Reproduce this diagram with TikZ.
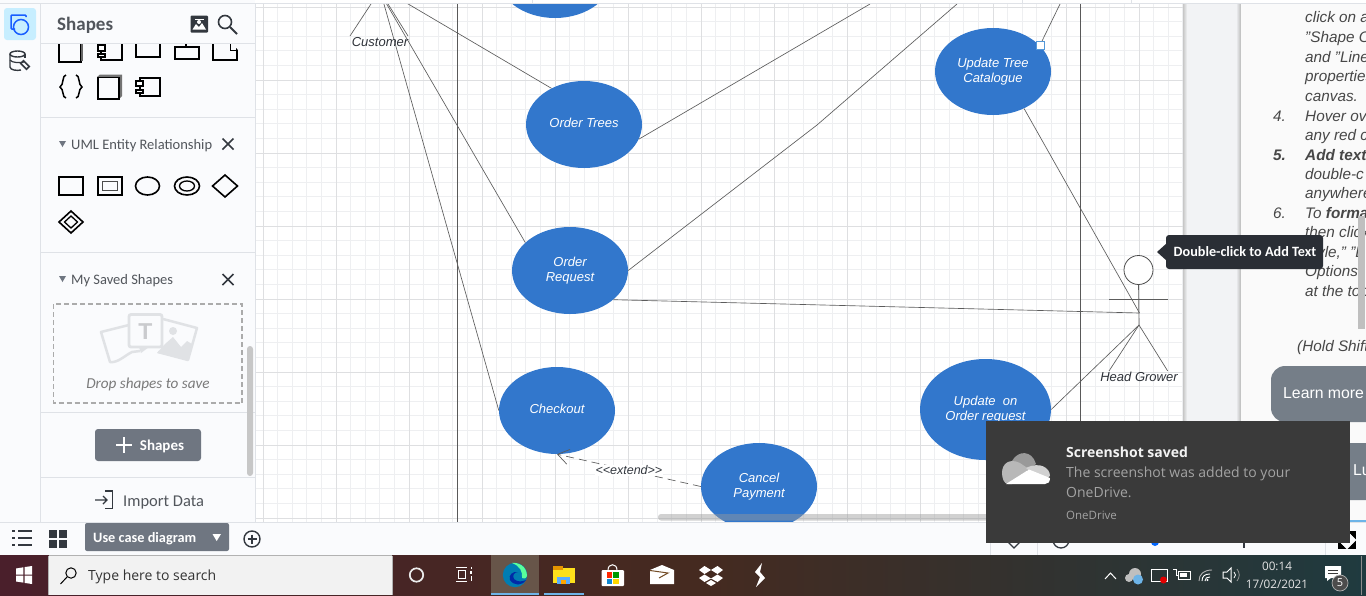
\documentclass[tikz,border=0pt]{standalone}
\usepackage{fontspec}
\setmainfont{Liberation Sans}
\newfontfamily\uifont{Carlito}
\newfontfamily\winfont{Open Sans}
\usetikzlibrary{shapes.geometric,arrows.meta}
\newcommand{\fsz}[1]{\fontsize{#1}{#1}\selectfont}
\newcommand{\uctext}[1]{\raisebox{3pt}{\renewcommand{\arraystretch}{1}\begin{tabular}{@{}c@{}}#1\end{tabular}}}
\definecolor{ucblue}{HTML}{3277CC}
\definecolor{gridminor}{HTML}{EEEFF1}
\definecolor{gridmajor}{HTML}{DEDFE1}
\definecolor{wire}{HTML}{5C5C5C}
\definecolor{panelbg}{HTML}{FAFBFD}
\definecolor{sep}{HTML}{DFE2E7}
\definecolor{ink}{HTML}{33383F}
\definecolor{btn}{HTML}{6F7681}
\definecolor{toast}{HTML}{3A3A3A}
\definecolor{tipdark}{HTML}{2A2E35}
\definecolor{winbtn}{HTML}{757E88}
\definecolor{taskA}{HTML}{4A1F2B}
\definecolor{taskB}{HTML}{452A20}
\definecolor{taskC}{HTML}{1F3A3F}
\definecolor{gutter}{HTML}{F2F3F5}
\definecolor{activetile}{HTML}{675549}
\definecolor{taskblue}{HTML}{6DB4E8}
\definecolor{savedgrey}{HTML}{E0E2E5}
\tikzset{
 usecase/.style={ellipse,fill=ucblue,text=white,inner sep=0pt,minimum width=116pt,minimum height=87pt,font=\fontsize{13}{15}\selectfont\itshape},
 wireline/.style={draw=wire,line width=.65pt},
 acttext/.style={text=ink!90!black,font=\fsz{13}\itshape,inner sep=0pt},
 iconline/.style={draw=black,line width=1.6pt},
 uilabel/.style={inner sep=0pt,anchor=base west,text=ink!85!white,font=\uifont\fsz{14.5}},
 paneltext/.style={inner sep=0pt,anchor=base west,text=black!72,font=\fsz{15.3}\itshape},
 toasttext/.style={inner sep=0,anchor=base west,text=black!36,font=\winfont\fsz{14}},
 tray/.style={draw=white,line width=1pt},
}
\begin{document}
\begin{tikzpicture}[x=1pt,y=-1pt]
\useasboundingbox (0,0) rectangle (1366,595);
\fill[white] (0,0) rectangle (1366,595);
% canvas grid
\begin{scope}
\clip (255,4) rectangle (1183,522);
\foreach \i in {0,...,64}{\draw[gridminor,line width=1pt] ({263+14.6*\i-14.6},4)--({263+14.6*\i-14.6},522);}
\foreach \i in {0,...,36}{\draw[gridminor,line width=1pt] (255,{7+14.6*\i})--(1183,{7+14.6*\i});}
\foreach \i in {0,...,12}{\draw[gridmajor,line width=1pt] ({263.5+73*\i},4)--({263.5+73*\i},522);}
\foreach \i in {0,...,7}{\draw[gridmajor,line width=1pt] (255,{7+73.05*\i})--(1183,{7+73.05*\i});}
% boundary lines
\draw[black!65,line width=1pt] (457.5,4)--(457.5,522);
\draw[black!65,line width=1pt] (1080.5,4)--(1080.5,522);
% free ends
\coordinate (custA) at (381,-12);
\coordinate (custB) at (381.4,-5);
\coordinate (custL) at (379.7,-9.3);
\coordinate (custFootL) at (350,36);
\coordinate (custFootR) at (408,36);
\coordinate (bendR) at (817,125);
\coordinate (offOR) at (957,4);
\coordinate (offOT) at (870,4);
\coordinate (offUT) at (1060,4);
\coordinate (hgHip) at (1139,325);
\coordinate (hgWaist) at (1139.5,313);
\coordinate (hgFootL) at (1109,371);
\coordinate (hgFootR) at (1167.7,371);
\coordinate (hgArmL) at (1109,299);
\coordinate (hgArmR) at (1168,299);
% use cases
\node[usecase] (topuc) at (555,-25.5) {};
\node[usecase] (ordertrees) at (584,124.5) {\uctext{Order Trees}};
\node[usecase] (updatetree) at (993,71.5) {\uctext{Update Tree\\Catalogue}};
\node[usecase] (orderreq) at (570,270.5) {\uctext{Order\\Request}};
\node[usecase] (checkout) at (557,410.5) {\uctext{Checkout}};
\node[usecase,minimum width=131pt,minimum height=101pt] (updateon) at (985.5,409.5) {\uctext{Update\ \ on\\Order request}};
\node[usecase] (cancel) at (759,486.5) {\uctext{Cancel\\Payment}};
% actor
\node[circle,draw=black!70,line width=.8pt,fill=white,minimum size=29pt,inner sep=0pt] (hghead) at (1138.5,270) {};
\draw[wireline] (hghead.south)--(hgHip);
\draw[wireline] (hgArmL)--(hgArmR);
\draw[wireline] (hgHip)--(hgFootL);
\draw[wireline] (hgHip)--(hgFootR);
\draw[wireline] (custL)--(custFootL);
\draw[wireline] (custL)--(custFootR);
% connectors
\draw[wireline] (custA)--(ordertrees.132);
\draw[wireline] (custB)--(orderreq.148);
\draw[wireline] (custB)--(checkout.west);
\draw[wireline] (ordertrees.-15)--(offOT);
\draw[wireline] (orderreq.east)--(bendR)--(offOR);
\draw[wireline] (updatetree.29)--(offUT);
\draw[wireline] (updatetree.-50)--(hgWaist);
\draw[wireline] (orderreq.-34)--(hgWaist);
\draw[wireline] (updateon.east)--(hgHip);
\draw[wireline,dash pattern=on 8pt off 5pt,-{Straight Barb[length=11pt,width=15pt,line width=.7pt]}] (cancel.west)-- node[fill=white,inner sep=1pt,text=ink,font=\fsz{12.5}\itshape] (extendlabel) {{<}{<}extend{>}{>}} (checkout.south);
% handle
\node[draw=cyan!60!blue!70,fill=white,line width=1.2pt,minimum size=8pt,inner sep=0pt] (handle) at (1040.5,45.5) {};
\node[acttext] (customerlabel) at (380,42) {Customer};
\node[acttext] (hglabel) at (1139,377) {Head Grower};
% h scrollbar
\fill[black!40,opacity=.45,rounded corners=3pt] (658,514) rectangle (1000,520.5);
\end{scope}
% canvas bottom & top
\draw[sep] (255,3.5)--(1366,3.5);
\foreach \x in {83,532,1022,1131}{\draw[sep] (\x,0)--(\x,3.5);}
% gutter to right panel
\fill[gutter] (1183,4) rectangle (1241,522);
\shade[left color=black!22,right color=gutter] (1183,4) rectangle (1187,522);
\shade[left color=gutter,right color=black!28] (1236,4) rectangle (1241,522);
\fill[white!98!black] (1241,4) rectangle (1366,522);
% right panel text
\begin{scope}
\clip (1241,4) rectangle (1366,522);
\node[paneltext] (p1) at (1305,22.5) {click on a};
\node[paneltext] (p2) at (1305,42.5) {"Shape O};
\node[paneltext] (p3) at (1305,62) {and "Line};
\node[paneltext] (p4) at (1305,81.5) {properties};
\node[paneltext] (p5) at (1305,101) {canvas.};
\node[paneltext] (n4) at (1273,121) {4.};
\node[paneltext] (p6) at (1305,121) {Hover ov};
\node[paneltext] (p7) at (1305,140) {any red c};
\node[paneltext] (n5) at (1273,160) {\bfseries 5.};
\node[paneltext] (p8) at (1305,160) {\bfseries Add text};
\node[paneltext] (p9) at (1305,179) {double-c};
\node[paneltext] (p10) at (1305,198.5) {anywhere};
\node[paneltext] (n6) at (1273,218) {6.};
\node[paneltext] (p11) at (1305,218) {To \textbf{format}};
\node[paneltext] (p12) at (1305,237) {then click};
\node[paneltext] (p13) at (1305,257) {style," "L};
\node[paneltext] (p14) at (1305,276) {Options"};
\node[paneltext] (p15) at (1305,296) {at the top};
\node[paneltext] (p16) at (1297,351) {(Hold Shift};
\fill[black!25] (1358,216) rectangle (1365,329);
\fill[winbtn,rounded corners=14pt] (1271,366) rectangle (1400,422);
\node[inner sep=0,anchor=west,text=white,font=\fsz{15.8}] (learn) at (1283,393.5) {Learn more};
\fill[winbtn,rounded corners=14pt] (1271,443) rectangle (1400,500);
\node[inner sep=0,anchor=west,text=white,font=\fsz{15.8}] (lu) at (1353,470) {Lu};
\fill[taskblue] (1350,519.5) rectangle (1366,522);
\end{scope}
% tooltip
\fill[tipdark,rounded corners=3pt] (1166,235) rectangle (1323,269);
\fill[tipdark] (1157,252)--(1167,243)--(1167,261)--cycle;
\node[inner sep=0,text=white,font=\uifont\fsz{14.2}\bfseries] (tiptext) at (1245,252) {Double-click to Add Text};
% left panels
\fill[panelbg] (0,4) rectangle (255,522);
\fill[panelbg] (0,0) rectangle (255,3.5);
\draw[sep] (40.5,4)--(40.5,522);
\draw[sep] (255.5,4)--(255.5,522);
\draw[sep] (0,3.5)--(255,3.5);
\fill[blue!30!cyan!22,rounded corners=3pt] (4,8) rectangle (36,40);
\draw[blue!70!cyan!90,line width=1.5pt,rounded corners=1pt] (26,17)--(26,15)--(11,15)--(11,29)--(15,29);
\draw[blue!70!cyan!90,line width=1.5pt] (21,27) circle (7.5pt);
% db icon
\draw[ink,line width=1.4pt] (10,54)--(10,67) .. controls (10,70) and (17,71) .. (21,70);
\draw[ink,line width=1.4pt] (17.5,54) ellipse (7.5pt and 3pt);
\draw[ink,line width=1.4pt] (25,54)--(25,58);
\draw[ink,line width=1.2pt] (10,60) .. controls (12,63) and (20,63) .. (24,62);
\draw[ink,line width=1.6pt,rotate around={-45:(25,65)}] (21,63) rectangle (29,67);
% header
\node[uilabel,font=\uifont\fsz{19}\bfseries] (shapestitle) at (57,30) {Shapes};
\fill[ink,rounded corners=1pt] (190.5,15.5) rectangle (208,32.5);
\fill[white] (195,18.5) rectangle (204,19.5);
\fill[white] (199,22) circle (2pt);
\fill[white] (192.5,29.5)--(196,24)--(199,27)--(202,23)--(206,29.5)--cycle;
\draw[ink,line width=1.6pt] (225,22) circle (6.5pt);
\draw[ink,line width=2pt] (230,27)--(237,34);
\draw[sep] (41,43.5)--(255,43.5);
% shapes row 1
\begin{scope}
\clip (41,44) rectangle (255,118);
\draw[iconline] (59,40) rectangle (81,62);
\fill[black!60] (81,40) rectangle (83,61);
\draw[iconline] (101,40) rectangle (122,60);
\fill[white] (98,45) rectangle (105,51);\draw[iconline,line width=1.2pt] (98,45) rectangle (105,51);
\fill[white] (98,54) rectangle (105,57);\draw[iconline,line width=1.2pt] (98,54) rectangle (105,57);
\draw[iconline] (136,40) rectangle (160,57);
\draw[iconline] (175,47) rectangle (199,59);
\draw[iconline] (186,43)--(186,47);
\draw[iconline] (213,40) rectangle (237,60);
\fill[panelbg] (230,40)--(238,50)--(238,40)--cycle;
\draw[iconline,line width=1pt] (230,44)--(230,50)--(237,50);
% braces
\draw[black,line width=1.5pt] (66,75) .. controls (62,75) and (64,85) .. (60,87) .. controls (64,89) and (62,98) .. (66,98);
\draw[black,line width=1.5pt] (76,75) .. controls (80,75) and (78,85) .. (82,87) .. controls (78,89) and (80,98) .. (76,98);
\fill[black!55] (97,77)--(100,74.5)--(122,74.5)--(122,96)--(119,99)--(119,77)--cycle;
\draw[iconline] (98,77.5) rectangle (119,99);
\draw[iconline] (140,78) rectangle (160,96);
\fill[white] (136,81) rectangle (143,86);\draw[iconline,line width=1.2pt] (136,81) rectangle (143,86);
\fill[white] (136,90) rectangle (143,93);\draw[iconline,line width=1.2pt] (136,90) rectangle (143,93);
\end{scope}
\draw[sep] (41,117.5)--(255,117.5);
\fill[btn] (59,141)--(66,141)--(62.5,147)--cycle;
\node[uilabel] (umllabel) at (71,149) {UML Entity Relationship};
\draw[ink,line width=1.5pt] (222.5,138.5)--(233.5,149.5) (233.5,138.5)--(222.5,149.5);
% ER icons
\draw[iconline] (59,177) rectangle (83,195);
\draw[iconline] (98,177) rectangle (122,195);
\draw[black!70,line width=1.3pt] (102.5,181.5) rectangle (117.5,190.5);
\draw[iconline] (147.5,186) ellipse (12pt and 9pt);
\draw[iconline] (187,186) ellipse (12.5pt and 9pt);
\draw[black,line width=1.3pt] (187,186) ellipse (7.5pt and 5pt);
\draw[iconline] (225,175)--(237.5,186)--(225,197)--(212.5,186)--cycle;
\draw[iconline] (71,211)--(83,222)--(71,233)--(59,222)--cycle;
\draw[black,line width=1.3pt] (71,216)--(77.5,222)--(71,228)--(64.5,222)--cycle;
\draw[sep] (41,252.5)--(255,252.5);
\fill[btn] (59,276)--(66,276)--(62.5,282)--cycle;
\node[uilabel] (savedlabel) at (71,284.5) {My Saved Shapes};
\draw[ink,line width=1.5pt] (222.5,274)--(233.5,285) (233.5,274)--(222.5,285);
% saved shapes box
\draw[black!33,line width=1.4pt,dash pattern=on 5pt off 3pt] (53.5,304) rectangle (242,403);
% picture frame on the right
\draw[savedgrey,line width=2.5pt,line join=round] (163,319)--(197,328)--(188,360)--(158,352);
\fill[savedgrey] (157,353)--(165,344)--(173,337)--(181,347)--(187,341)--(192,344)--(188,360)--cycle;
\fill[savedgrey] (173,331) circle (4pt);
% speech sheet on the left
\draw[savedgrey,line width=2.5pt,line join=round] (129,325)--(101,332)--(110,362) .. controls (118,363) and (124,356) .. (132,352)--(140,351);
% T card
\draw[savedgrey,line width=2.8pt,rounded corners=2pt] (129,314.5) rectangle (162,347);
\fill[savedgrey] (139,347)--(149,347)--(141,353)--cycle;
\node[inner sep=0,text=savedgrey!90!black,font=\bfseries\fontsize{23}{23}\selectfont] (tglyph) at (145.5,331.5) {T};
\node[inner sep=0,anchor=base,text=black!52,font=\uifont\fsz{15.2}\itshape] (droplabel) at (148,388) {Drop shapes to save};
\draw[sep] (41,412.5)--(255,412.5);
\fill[btn,rounded corners=3pt] (95,429) rectangle (201,461);
\draw[white,line width=1.4pt] (116,445)--(132,445) (124,437)--(124,453);
\node[inner sep=0,anchor=base,text=white,font=\uifont\fsz{15}\bfseries] (plusshapes) at (162,450) {Shapes};
\draw[sep] (41,477.5)--(255,477.5);
\fill[black!22,rounded corners=3pt] (247,346) rectangle (253,476);
\draw[ink,line width=1.4pt] (105,491)--(112.5,491)--(112.5,508.5)--(105,508.5);
\draw[ink,line width=1.4pt] (95,500)--(107,500) (103,496)--(107,500)--(103,504);
\node[uilabel,font=\uifont\fsz{16.5}] (importlabel) at (123,506) {Import Data};
% bottom bar
\fill[panelbg] (0,522) rectangle (1366,555);
\draw[sep] (0,522)--(1366,522);
\foreach \yy in {531,538,545}{\fill[ink] (12,\yy-1) rectangle (15,\yy+1);\fill[ink] (18,\yy-1) rectangle (32,\yy+1);}
\fill[ink] (49,530) rectangle (57,538);\fill[ink] (59,530) rectangle (67,538);\fill[ink] (49,540) rectangle (57,548);\fill[ink] (59,540) rectangle (67,548);
\fill[btn,rounded corners=2pt] (85,523) rectangle (229,551);
\node[inner sep=0,anchor=base west,text=white,font=\uifont\fsz{14.3}\bfseries] (tablabel) at (93,542) {Use case diagram};
\fill[white] (212.5,534)--(221,534)--(216.7,541)--cycle;
\draw[ink,line width=1.4pt] (252,539) circle (8pt);
\draw[ink,line width=1.4pt] (247.5,539)--(256.5,539) (252,534.5)--(252,543.5);
% partially hidden tools
\draw[sep] (990,522)--(990,555) (1037,522)--(1037,555) (1325,522)--(1325,555);
\draw[ink,line width=1.3pt] (1004,538)--(1014,548)--(1024,538);
\draw[ink,line width=1.3pt] (1061,540) circle (8pt);
\fill[blue!60!cyan] (1155,542) circle (4pt);
\fill[ink] (1243,542) rectangle (1244.5,548);
% fullscreen icon
\fill[black] (1338,531) rectangle (1356,549);
\fill[panelbg] (1347,530.5)--(1353,537)--(1341,537)--cycle;
\fill[panelbg] (1347,549.5)--(1353,543)--(1341,543)--cycle;
\fill[panelbg] (1337.5,540)--(1344,534)--(1344,546)--cycle;
\fill[panelbg] (1356.5,540)--(1350,534)--(1350,546)--cycle;
% taskbar
\shade[left color=taskA,right color=taskB] (0,555) rectangle (700,595);
\shade[left color=taskB,right color=taskC] (700,555) rectangle (1366,595);
% windows logo
\fill[white] (16,568.5)--(23.3,567.3)--(23.3,574.6)--(16,574.6)--cycle;
\fill[white] (24.5,567.1)--(32,566)--(32,574.6)--(24.5,574.6)--cycle;
\fill[white] (16,575.6)--(23.3,575.6)--(23.3,582.6)--(16,581.5)--cycle;
\fill[white] (24.5,575.6)--(32,575.6)--(32,584)--(24.5,582.9)--cycle;
% search box
\fill[black!5] (49,555.5) rectangle (392,595);
\draw[black!30] (49,555.5)--(392,555.5) (48.5,555.5)--(48.5,595) (392,555.5)--(392,595);
\draw[black,line width=1pt] (71,573) circle (5.2pt);
\draw[black,line width=1pt] (67,577)--(60.5,584);
\node[inner sep=0,anchor=base west,text=black!80,font=\winfont\fsz{14}] (searchlabel) at (88,580.5) {Type here to search};
% taskbar icons
\draw[white!92!black,line width=1.7pt] (416.5,575) circle (6.7pt);
\draw[white,line width=1pt] (456,567.5)--(467,567.5) (456,581.5)--(467,581.5);
\draw[white,line width=1pt] (458,570.5) rectangle (465,578.5);
\fill[white] (470,571) rectangle (472,574);
\draw[white,line width=1pt] (471,567)--(471,569) (471,576)--(471,581);
\fill[activetile] (491,555) rectangle (539,595);
\fill[taskblue] (491,593) rectangle (539,595);
\fill[taskblue] (544,593) rectangle (584,595);
% edge
\fill[blue!30!cyan!70!black] (515,575) circle (12.2pt);
\fill[green!60!cyan!65] (527,576) .. controls (527,566) and (518,562) .. (512,563) .. controls (520,566) and (523,572) .. (522,578) .. controls (525,579) and (527,578) .. (527,576) -- cycle;
\fill[blue!75!cyan!65!black] (526,580) .. controls (522,586) and (514,586) .. (510,580) .. controls (508,575) and (513,571) .. (518,572) .. controls (514,572) and (512,576) .. (514,579) .. controls (517,582) and (522,582) .. (526,580) -- cycle;
\fill[yellow!80!orange!90] (553,568) rectangle (574.5,583);
\fill[orange!70!yellow!90!black] (553,566) rectangle (563,570);
\fill[blue!50!cyan!65] (557,577) rectangle (570,584);
\fill[orange!70!yellow] (561,580) rectangle (566,584);
\fill[white,rounded corners=1pt] (601.5,570) rectangle (624,586);
\draw[white,line width=1pt] (608,570) .. controls (608,563) and (617,563) .. (617,570);
\fill[red!70!orange] (607,572) rectangle (612.3,577.5);
\fill[green!60!black] (613.2,572) rectangle (618.5,577.5);
\fill[cyan!70!blue] (607,578.5) rectangle (612.3,584);
\fill[orange!30!yellow] (613.2,578.5) rectangle (618.5,584);
\fill[white] (650,570)--(662,565)--(674,570)--(674,584)--(650,584)--cycle;
\draw[brown!60!black,line width=1pt] (650,570.5)--(668,573)--(659,578);
\fill[white] (704.5,566)--(711,570)--(704.5,574)--(699,570)--cycle;
\fill[white] (717.5,566)--(723,570)--(717.5,574)--(711,570)--cycle;
\fill[white] (704.5,574.5)--(711,578.5)--(704.5,582)--(699,578)--cycle;
\fill[white] (717.5,574.5)--(723,578)--(717.5,582)--(711,578.5)--cycle;
\fill[white] (711,580)--(716,583)--(711,586)--(706,583)--cycle;
\fill[white] (762,563)--(755,572)--(760,577)--(756,587)--(765,578)--(760,572)--cycle;
% toast
\fill[toast] (986,421) rectangle (1350,543);
\fill[black!40] (1012,461) .. controls (1018,450) and (1032,450) .. (1036,464) -- (1020,475) -- cycle;
\fill[black!28] (1002,473) .. controls (1002,463) and (1010,458) .. (1020,463) -- (1029,469) -- (1012,484) -- (1008,484) .. controls (1004,484) and (1002,478) .. (1002,473) -- cycle;
\fill[black!18] (1026,468) .. controls (1040,461) and (1050,468) .. (1050,476) -- (1047,478) -- (1036,476) -- cycle;
\fill[white] (1006,484) -- (1029,469.5) -- (1050,478) .. controls (1050,482) and (1048,484) .. (1045,484) -- cycle;
\node[toasttext,text=white!95!black,font=\winfont\fsz{14}\bfseries] (toast1) at (1066,457) {Screenshot saved};
\node[toasttext] (toast2) at (1066,477) {The screenshot was added to your};
\node[toasttext] (toast3) at (1066,497) {OneDrive.};
\node[toasttext,font=\winfont\fsz{11.5}] (toast4) at (1066,519) {OneDrive};
% tray
\draw[white,line width=1pt] (1105,579)--(1110.5,573)--(1116,579);
\fill[black!25] (1135,574) circle (6pt);\fill[black!25] (1129,578) circle (4pt);
\fill[taskblue] (1138,579.5) circle (5pt);
\draw[tray] (1151,569) rectangle (1167,581);
\fill[red!90!black] (1163.5,580) circle (3.5pt);
\draw[tray] (1178,571) rectangle (1190,579);
\fill[white] (1180,573) rectangle (1187,577);
\draw[tray] (1173,569)--(1176,569)--(1176,575)--(1178,575);
\fill[white] (1207.5,580) circle (1.2pt);
\draw[white,line width=.9pt] (1202,581) .. controls (1202,576) and (1205,574) .. (1210,574);
\draw[white,line width=.9pt] (1205,581) .. controls (1205,578) and (1207,577) .. (1210,577);
\draw[white!70!black,line width=.9pt] (1199,581) .. controls (1199,574) and (1204,570) .. (1212,570);
\draw[tray] (1223,572)--(1227,572)--(1231,568)--(1231,582)--(1227,578)--(1223,578)--cycle;
\draw[white,line width=.8pt] (1234,572) .. controls (1236,574) and (1236,576) .. (1234,578);
\draw[white!60!black,line width=.8pt] (1237,569) .. controls (1240,573) and (1240,577) .. (1237,581);
\node[inner sep=0,text=white!90!black,font=\winfont\fsz{11.7}] (clock) at (1277,566) {00:14};
\node[inner sep=0,text=white!90!black,font=\winfont\fsz{11.7}] (clockdate) at (1277,584.5) {17/02/2021};
\fill[white] (1325,566)--(1341,566)--(1341,578)--(1331,578)--(1327,581)--(1327,578)--(1325,578)--cycle;
\draw[toast,line width=.7pt] (1328,570)--(1338,570) (1328,573)--(1338,573);
\draw[black!30,fill=black!70,line width=.7pt] (1340,583) circle (8pt);
\node[inner sep=0,text=white,font=\winfont\fsz{11}] (badge) at (1340,583) {5};
\draw[black!45,line width=.7pt] (1361.5,556)--(1361.5,595);
\end{tikzpicture}
\end{document}
